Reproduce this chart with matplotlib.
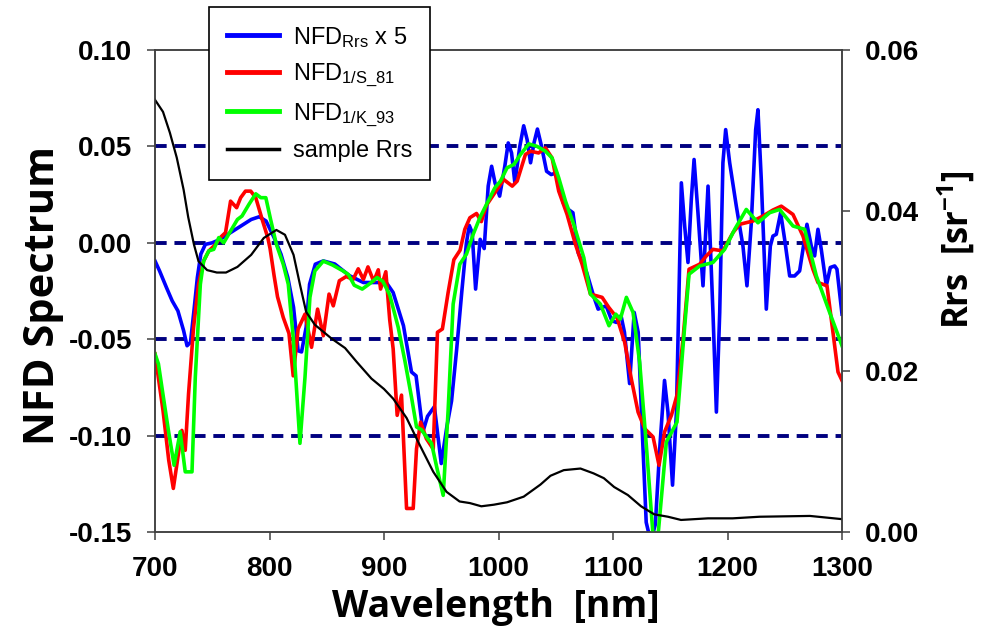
import matplotlib
matplotlib.use("Agg")
import matplotlib.pyplot as plt
from matplotlib.ticker import FormatStrFormatter

plt.rcParams['font.family'] = ['Liberation Sans', 'DejaVu Sans']
plt.rcParams['mathtext.default'] = 'regular'
plt.rcParams['axes.unicode_minus'] = False

# NFD_Rrs x 5 (blue)
blue_wl = [700, 704, 710, 715, 720, 725, 728, 731, 734, 737, 740, 744, 750, 757, 766, 775, 784, 791, 797,
           804, 810, 816, 821, 825, 828, 832, 835, 840, 847, 857, 870, 882, 893, 902, 908, 917, 924, 928,
           934, 938, 944, 950, 955, 959, 963.5, 968, 972, 974.5, 977, 980, 984, 987.5, 991, 994, 997, 1001,
           1005.5, 1008.5, 1011.4, 1014.3, 1018.6, 1022, 1025, 1028, 1031, 1034, 1037.6, 1042, 1046, 1050.6,
           1056.5, 1061, 1065, 1069.6, 1077, 1083, 1087, 1094, 1099, 1103, 1107, 1110, 1114.5, 1118.5, 1122,
           1125, 1129, 1133, 1137, 1141, 1145, 1148, 1152, 1155.4, 1159.7, 1162.6, 1165.5, 1168.4, 1170.8,
           1174.2, 1178.6, 1183, 1187.3, 1190.3, 1193.2, 1196, 1198.4, 1201.9, 1207.7, 1213.5, 1217, 1220.8,
           1224.6, 1226.6, 1229.5, 1233.9, 1237.4, 1239.7, 1242.6, 1246.4, 1249.9, 1254.3, 1258.6, 1263,
           1265.9, 1269.4, 1273.2, 1276.1, 1279, 1281.9, 1286.3, 1289.8, 1293.6, 1295.6, 1300]
blue_val = [-0.0094, -0.0146, -0.0232, -0.0301, -0.0353, -0.0456, -0.0534, -0.0516, -0.0353, -0.018, -0.0059,
            -0.0008, 0.0, 0.0018, 0.0053, 0.0087, 0.0121, 0.0135, 0.0113, 0.0027, -0.0059, -0.018, -0.0335,
            -0.056, -0.0566, -0.0438, -0.0215, -0.0111, -0.0094, -0.011, -0.0171, -0.0206, -0.0206, -0.0206,
            -0.0258, -0.043, -0.067, -0.069, -0.098, -0.090, -0.085, -0.1145, -0.095, -0.082, -0.055, -0.025,
            0.0, 0.009, 0.0053, -0.024, 0.0018, -0.003, 0.0294, 0.0397, 0.031, 0.0242, 0.0397, 0.0518, 0.0466,
            0.0311, 0.050, 0.0607, 0.0535, 0.0415, 0.0518, 0.059, 0.050, 0.0371, 0.0354, 0.0363, 0.0208,
            0.0173, 0.0156, -0.0051, -0.0154, -0.0275, -0.0344, -0.0327, -0.0404, -0.0413, -0.0378, -0.0464,
            -0.073, -0.0361, -0.0464, -0.09, -0.145, -0.155, -0.146, -0.105, -0.0714, -0.0878, -0.1257,
            -0.0878, 0.0311, 0.0087, -0.0102, 0.0225, 0.0432, 0.0156, -0.0223, 0.0294, -0.0361, -0.0878,
            -0.0361, 0.0415, 0.0587, 0.0415, 0.019, -0.0017, -0.0223, 0.0104, 0.0587, 0.069, 0.0328, -0.0344,
            -0.0017, 0.0035, 0.0044, 0.0156, 0.0018, -0.0172, -0.0172, -0.0146, -0.0034, 0.0096, -0.0017,
            -0.0068, 0.007, -0.0034, -0.0223, -0.0128, -0.012, -0.0137, -0.037]

# NFD_1/S_81 (red)
red_wl = [700, 707, 712, 716, 720.5, 723.5, 726.4, 729.3, 733.7, 738, 742.5, 747, 753, 757, 761.6, 766,
          771.3, 774.8, 779, 783.6, 788, 794, 798.5, 800.5, 804, 807, 812, 817, 820.7, 825, 831, 836.7,
          842, 847, 852, 855.7, 861, 867, 873, 877.5, 882, 886, 891, 895, 897, 901.6, 905, 908, 911.5,
          915.3, 919.7, 925.5, 928.4, 932, 937, 943, 946.7, 951, 956, 961, 966.5, 970.6, 975, 980.8, 985,
          989.5, 998, 1004.6, 1012, 1016.3, 1023.5, 1028, 1035, 1041, 1046.8, 1052.6, 1059.9, 1067.2, 1073,
          1080.3, 1090.5, 1096.3, 1103.6, 1110.2, 1116, 1121.9, 1127.7, 1135, 1140.2, 1145.1, 1151, 1155.9,
          1161.2, 1166.4, 1175.7, 1181.5, 1187.3, 1196, 1204.8, 1210.6, 1222.3, 1231, 1239.7, 1247, 1257.2,
          1265.9, 1274.6, 1279, 1286.9, 1292.1, 1296.5, 1300]
red_val = [-0.0576, -0.087, -0.1128, -0.1274, -0.1093, -0.0973, -0.1076, -0.0783, -0.0438, -0.0215, -0.0094,
           -0.0042, -0.0008, 0.0027, 0.0053, 0.0216, 0.0182, 0.0234, 0.0268, 0.0268, 0.0234, 0.0113, 0.0027,
           -0.003, -0.017, -0.028, -0.0387, -0.047, -0.069, -0.0447, -0.037, -0.0542, -0.0344, -0.0482,
           -0.0266, -0.0327, -0.0197, -0.0175, -0.019, -0.0135, -0.019, -0.0125, -0.020, -0.014, -0.024,
           -0.015, -0.04, -0.055, -0.0895, -0.079, -0.1378, -0.1378, -0.1068, -0.093, -0.1016, -0.107,
           -0.0464, -0.0447, -0.0258, -0.0088, -0.0038, 0.007, 0.013, 0.0152, 0.011, 0.0195, 0.027, 0.0328,
           0.0294, 0.032, 0.0458, 0.0475, 0.0466, 0.0492, 0.044, 0.0268, 0.0147, -0.0008, -0.0111, -0.0266,
           -0.0283, -0.0335, -0.039, -0.0516, -0.0706, -0.0878, -0.0964, -0.1007, -0.1154, -0.098, -0.0895,
           -0.079, -0.0499, -0.0137, -0.0111, -0.0068, -0.0034, -0.0042, 0.0053, 0.0096, 0.0113, 0.0139,
           0.017, 0.019, 0.0147, 0.0035, -0.0137, -0.0206, -0.0223, -0.0464, -0.067, -0.0714]

# NFD_1/K_93 (green)
green_wl = [700, 703, 707.3, 711.7, 716.7, 722, 726.4, 732.3, 735.2, 739.6, 742.5, 747, 751.3, 755.7, 760,
            766, 772, 776, 782, 788, 792.4, 796.8, 801, 806, 812, 816.4, 820.7, 826.6, 831, 835.3, 839.6,
            847, 855, 864, 869, 874, 881, 888, 894, 899, 905, 912.4, 918.2, 924, 928.4, 932.8, 937.1, 941.5,
            946, 951.7, 956, 960.4, 966.2, 972, 977.9, 983.7, 989.5, 996.8, 1001.7, 1007.5, 1013.4, 1019.2,
            1026.5, 1033.7, 1041, 1046.8, 1052.6, 1058.5, 1065.7, 1074.5, 1080.3, 1089, 1096.5, 1102.4,
            1106.4, 1111.7, 1117.5, 1123.3, 1129.1, 1135, 1139.3, 1146.6, 1155.9, 1161.2, 1166.4, 1175.7,
            1187.3, 1197.5, 1206.3, 1216.4, 1226.6, 1236.8, 1245.5, 1257.2, 1267.4, 1277.6, 1289.2, 1300]
green_val = [-0.0576, -0.0628, -0.080, -0.0973, -0.1154, -0.098, -0.1188, -0.1188, -0.0697, -0.0215, -0.0094,
             -0.0042, -0.0034, 0.0027, 0.0, 0.0061, 0.0121, 0.0139, 0.0199, 0.0254, 0.0234, 0.0234, 0.012,
             -0.0008, -0.0111, -0.0215, -0.049, -0.104, -0.0697, -0.0283, -0.0146, -0.0095, -0.0115, -0.0145,
             -0.0165, -0.022, -0.024, -0.021, -0.018, -0.020, -0.027, -0.0438, -0.0611, -0.080, -0.0955,
             -0.097, -0.1007, -0.104, -0.1162, -0.131, -0.087, -0.0318, -0.0111, -0.0059, 0.0044, 0.013,
             0.0199, 0.0285, 0.032, 0.0389, 0.0406, 0.0458, 0.0513, 0.050, 0.0475, 0.044, 0.0337, 0.0216,
             0.0096, -0.0077, -0.0266, -0.0318, -0.043, -0.037, -0.0396, -0.0283, -0.0361, -0.062, -0.105,
             -0.152, -0.152, -0.1033, -0.093, -0.0534, -0.0163, -0.012, -0.0102, -0.0034, 0.007, 0.0173,
             0.0104, 0.0156, 0.0173, 0.0087, 0.007, -0.0172, -0.0361, -0.0534]

# sample Rrs (black, right axis)
rrs_wl = [700, 707, 713, 719, 725, 729, 734, 738, 745.5, 754, 762, 772, 784, 795, 806, 813.5, 821, 826.6,
          832, 839.6, 854, 866, 876, 889, 900, 908, 919.7, 931.3, 943, 954.6, 966, 975, 985, 996, 1007.5,
          1022, 1036.6, 1045.4, 1057, 1071.6, 1083, 1092, 1101, 1113, 1124.5, 1136, 1148, 1159.4, 1183,
          1204.5, 1228, 1272, 1300]
rrs_val = [0.0538, 0.0523, 0.0497, 0.0466, 0.0426, 0.0392, 0.0358, 0.0337, 0.0326, 0.0323, 0.0323, 0.0330,
           0.0345, 0.0366, 0.0376, 0.0370, 0.0345, 0.0308, 0.0274, 0.0258, 0.0241, 0.0229, 0.0212, 0.0191,
           0.0178, 0.0166, 0.0142, 0.0108, 0.0075, 0.0050, 0.0038, 0.0036, 0.0032, 0.0034, 0.0037, 0.0044,
           0.0059, 0.0070, 0.0077, 0.0079, 0.0073, 0.0067, 0.0056, 0.0046, 0.0032, 0.0022, 0.0019, 0.0015,
           0.0017, 0.0017, 0.0019, 0.0020, 0.0016]

ref_levels = [0.05, 0.0, -0.05, -0.10]
left_ticks = [-0.15, -0.10, -0.05, 0.00, 0.05, 0.10]
right_ticks = [0.00, 0.02, 0.04, 0.06]
x_ticks = [700, 800, 900, 1000, 1100, 1200, 1300]

spine_col = '#404040'
fig = plt.figure(figsize=(9.83, 6.38), dpi=100)
ax = fig.add_axes([155/983, 1 - 532/638, (842 - 155)/983, (532 - 50)/638])

for lv in ref_levels:
    ax.axhline(lv, color='#000080', lw=2.8, dashes=(3, 2), zorder=1)

l1, = ax.plot(blue_wl, blue_val, color='#0000ff', lw=2.6, label=r'NFD$_{Rrs}$ x 5', zorder=2)
l2, = ax.plot(red_wl, red_val, color='#ff0000', lw=2.6, label=r'NFD$_{1/S\_81}$', zorder=3)
l3, = ax.plot(green_wl, green_val, color='#00ff00', lw=2.6, label=r'NFD$_{1/K\_93}$', zorder=4)

ax.set_xlim(700, 1300)
ax.set_ylim(-0.15, 0.10)
ax.set_xticks(x_ticks)
ax.set_yticks(left_ticks)
ax.yaxis.set_major_formatter(FormatStrFormatter('%.2f'))

ax2 = ax.twinx()
l4, = ax2.plot(rrs_wl, rrs_val, color='black', lw=1.6, label='sample Rrs')
ax2.set_ylim(0, 0.06)
ax2.set_yticks(right_ticks)
ax2.yaxis.set_major_formatter(FormatStrFormatter('%.2f'))

for a in (ax, ax2):
    for s in a.spines.values():
        s.set_color(spine_col)
        s.set_linewidth(1.1)
    a.tick_params(direction='out', length=5.5, width=1.1, color=spine_col, labelsize=20, pad=11)
    for lab in a.get_xticklabels() + a.get_yticklabels():
        lab.set_fontweight('bold')
ax.tick_params(axis='x', pad=12)

ax.set_xlabel('Wavelength  [nm]', family='Open Sans', fontweight='bold', fontsize=27)
ax.xaxis.set_label_coords(0.496, -0.117)
ax.set_ylabel('NFD Spectrum', family='Open Sans', fontweight='bold', fontsize=30)
ax.yaxis.set_label_coords(-0.133, 0.49)
ax2.set_ylabel(r'Rrs  [sr$^{-1}$]', family='Open Sans', fontweight='bold', fontsize=25)
ax2.yaxis.set_label_coords(1.135, 0.585)

leg = fig.legend(handles=[l1, l2, l3, l4], loc='upper left', bbox_to_anchor=(209/983, 1 - 7/638),
                 borderaxespad=0, fontsize=17, handlelength=2.2, handletextpad=0.6, labelspacing=0.5,
                 fancybox=False, framealpha=1, edgecolor='black', borderpad=0.75)
leg.get_frame().set_linewidth(1.2)
for h in leg.legend_handles:
    h.set_linewidth(3.5 if h.get_color() != 'black' else 2.5)

fig.savefig('out.png', dpi=100)
